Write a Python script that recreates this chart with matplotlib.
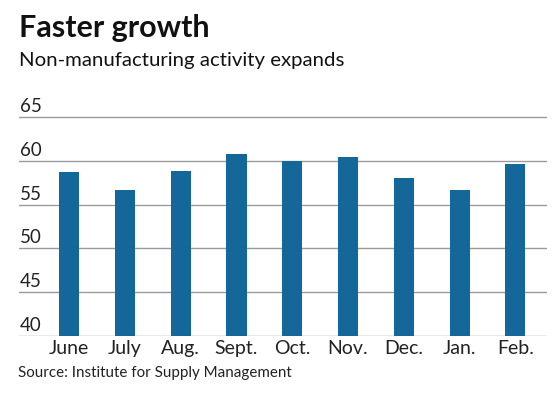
import numpy as np
import matplotlib.pyplot as plt

# ISM non-manufacturing index
months = ["June", "July", "Aug.", "Sept.", "Oct.", "Nov.", "Dec.", "Jan.", "Feb."]
values = [58.7, 56.7, 58.8, 60.8, 60.0, 60.4, 58.0, 56.7, 59.7]
yticks = [40, 45, 50, 55, 60, 65]

bar_color = "#146799"
grid_color = "#9a9a9a"
plt.rcParams['font.family'] = ['Lato', 'DejaVu Sans']

fig = plt.figure(figsize=(5.6, 3.93), dpi=100)
ax = fig.add_axes([0.034, 0.145, 0.942, 0.579])

x = np.arange(len(months))
ax.bar(x, values, width=0.36, bottom=0, color=bar_color, zorder=3)
ax.set_xlim(-0.9, 8.56)
ax.set_ylim(40, 66)

for v in yticks:
    ax.axhline(v, color=grid_color, lw=1.0, zorder=1)
    ax.text(0.002, v + 0.25, str(v), transform=ax.get_yaxis_transform(),
            ha='left', va='bottom', fontsize=13.5, color="#222222")

ax.set_yticks([])
ax.set_xticks(x)
ax.set_xticklabels(months, fontsize=14, color="#222222")
ax.tick_params(axis='x', length=0, pad=3)
for s in ax.spines.values():
    s.set_visible(False)

fig.text(0.034, 0.905, "Faster growth", fontsize=22, fontweight='bold', color="#111111")
fig.text(0.034, 0.833, "Non-manufacturing activity expands", fontsize=14.7, color="#111111")
fig.text(0.032, 0.04, "Source: Institute for Supply Management", fontsize=10.9, color="#222222")

fig.savefig("out.png", dpi=100)
